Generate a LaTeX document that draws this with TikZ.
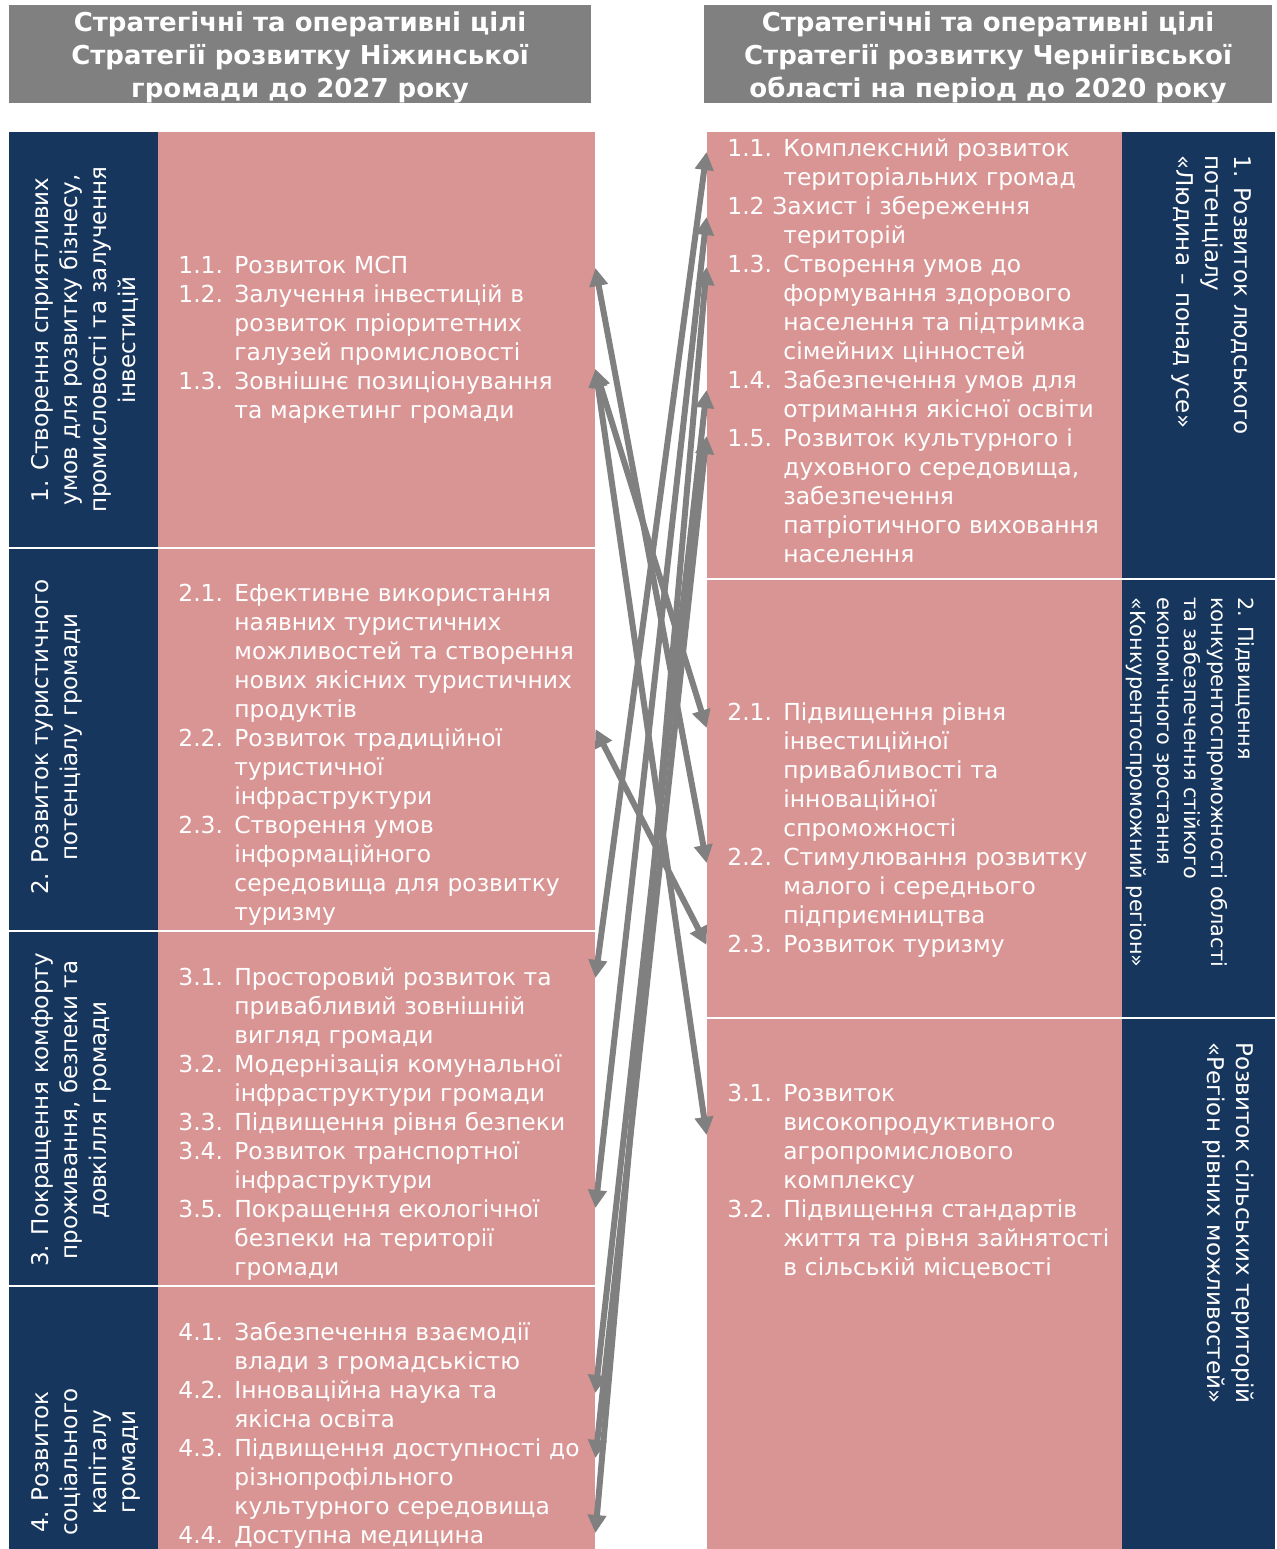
\documentclass[tikz,border=0pt]{standalone}
\usepackage{fontspec}
\setmainfont{DejaVu Sans}
\usetikzlibrary{arrows.meta,fit}

\definecolor{navy}{HTML}{17365D}
\definecolor{rosy}{HTML}{D99594}
\definecolor{headgray}{HTML}{808080}

\newlength\numw
\setlength\numw{28pt}
\newcommand\gn[1]{\makebox[\numw][l]{#1}}
\newcommand\gi{\hspace*{\numw}}

\tikzset{
  bluebox/.style={fill=navy, inner sep=0pt},
  pinkbox/.style={fill=rosy, inner sep=0pt},
  headbox/.style={fill=headgray, inner sep=0pt},
  headtext/.style={text=white, font=\fontsize{13pt}{16.5pt}\selectfont\bfseries, align=center},
  goaltext/.style={text=white, font=\fontsize{11.7pt}{14.5pt}\selectfont, align=left, anchor=north west, inner sep=0pt, text width=240pt},
  sidetext/.style={text=white, font=\fontsize{11.5pt}{14.5pt}\selectfont, inner sep=0pt},
  link/.style={draw=headgray, line width=3pt, {Triangle[width=9pt,length=9pt]}-{Triangle[width=9pt,length=9pt]}},
}

\begin{document}
\begin{tikzpicture}[x=0.5pt, y=-0.5pt]
\useasboundingbox (0,0) rectangle (1277,1549);

% headers
\node[headbox, fit={(9,5) (591,103)}] (hl) {};
\node[headbox, fit={(704,5) (1272,103)}] (hr) {};
\node[headtext] at ([yshift=-1.5pt]hl.center) {Стратегічні та оперативні цілі\\ Стратегії розвитку Ніжинської\\ громади до 2027 року};
\node[headtext] at ([yshift=-1.5pt]hr.center) {Стратегічні та оперативні цілі\\ Стратегії розвитку Чернігівської\\ області на період до 2020 року};

% left column
\node[bluebox, fit={(9,132) (158,547)}] (lb1) {};
\node[pinkbox, fit={(158,132) (595,547)}] (lp1) {};
\node[bluebox, fit={(9,549) (158,930)}] (lb2) {};
\node[pinkbox, fit={(158,549) (595,930)}] (lp2) {};
\node[bluebox, fit={(9,932) (158,1285)}] (lb3) {};
\node[pinkbox, fit={(158,932) (595,1285)}] (lp3) {};
\node[bluebox, fit={(9,1287) (158,1551)}] (lb4) {};
\node[pinkbox, fit={(158,1287) (595,1551)}] (lp4) {};

% right column
\node[pinkbox, fit={(707,132) (1122,578)}] (rp1) {};
\node[bluebox, fit={(1122,132) (1275,578)}] (rb1) {};
\node[pinkbox, fit={(707,580) (1122,1017)}] (rp2) {};
\node[bluebox, fit={(1122,580) (1275,1017)}] (rb2) {};
\node[pinkbox, fit={(707,1019) (1122,1551)}] (rp3) {};
\node[bluebox, fit={(1122,1019) (1275,1551)}] (rb3) {};

% strategic goals, left
\node[sidetext, rotate=90, align=center, anchor=north] (ls1) at (28,340) {\strut 1. Створення сприятливих\\ умов для розвитку бізнесу,\\ промисловості та залучення\\ інвестицій};
\node[sidetext, rotate=90, align=center, anchor=north] (ls2) at (28,737) {\strut 2. Розвиток туристичного\\ потенціалу громади};
\node[sidetext, rotate=90, align=center, anchor=north] (ls3) at (28,1110) {\strut 3. Покращення комфорту\\ проживання, безпеки та\\ довкілля громади};
\node[sidetext, rotate=90, align=center, anchor=north] (ls4) at (28,1462) {\strut 4. Розвиток\\ соціального\\ капіталу\\ громади};

% strategic goals, right
\node[sidetext, rotate=-90, align=left, anchor=north west] (rs1) at (1255,155) {\strut 1. Розвиток людського\\ потенціалу\\ «Людина – понад усе»};
\node[sidetext, rotate=-90, align=left, anchor=north west, font=\fontsize{10.4pt}{13.5pt}\selectfont] (rs2) at (1258,597) {\strut 2. Підвищення\\ конкурентоспроможності області\\ та забезпечення стійкого\\ економічного зростання\\ «Конкурентоспроможний регіон»};
\node[sidetext, rotate=-90, align=left, anchor=north west] (rs3) at (1257,1042) {\strut Розвиток сільських територій\\ «Регіон рівних можливостей»};

% operational goals, left
\node[goaltext] (lt1) at (178,253) {\strut\gn{1.1.}Розвиток МСП\\
\gn{1.2.}Залучення інвестицій в\\ \gi розвиток пріоритетних\\ \gi галузей промисловості\\
\gn{1.3.}Зовнішнє позиціонування\\ \gi та маркетинг громади};
\node[goaltext] (lt2) at (178,581) {\strut\gn{2.1.}Ефективне використання\\ \gi наявних туристичних\\ \gi можливостей та створення\\ \gi нових якісних туристичних\\ \gi продуктів\\
\gn{2.2.}Розвиток традиційної\\ \gi туристичної\\ \gi інфраструктури\\
\gn{2.3.}Створення умов\\ \gi інформаційного\\ \gi середовища для розвитку\\ \gi туризму};
\node[goaltext] (lt3) at (178,965) {\strut\gn{3.1.}Просторовий розвиток та\\ \gi привабливий зовнішній\\ \gi вигляд громади\\
\gn{3.2.}Модернізація комунальної\\ \gi інфраструктури громади\\
\gn{3.3.}Підвищення рівня безпеки\\
\gn{3.4.}Розвиток транспортної\\ \gi інфраструктури\\
\gn{3.5.}Покращення екологічної\\ \gi безпеки на території\\ \gi громади};
\node[goaltext] (lt4) at (178,1320) {\strut\gn{4.1.}Забезпечення взаємодії\\ \gi влади з громадськістю\\
\gn{4.2.}Інноваційна наука та\\ \gi якісна освіта\\
\gn{4.3.}Підвищення доступності до\\ \gi різнопрофільного\\ \gi культурного середовища\\
\gn{4.4.}Доступна медицина};

% operational goals, right
\node[goaltext] (rt1) at (727,136) {\strut\gn{1.1.}Комплексний розвиток\\ \gi територіальних громад\\
1.2 Захист і збереження\\ \gi територій\\
\gn{1.3.}Створення умов до\\ \gi формування здорового\\ \gi населення та підтримка\\ \gi сімейних цінностей\\
\gn{1.4.}Забезпечення умов для\\ \gi отримання якісної освіти\\
\gn{1.5.}Розвиток культурного і\\ \gi духовного середовища,\\ \gi забезпечення\\ \gi патріотичного виховання\\ \gi населення};
\node[goaltext] (rt2) at (727,700) {\strut\gn{2.1.}Підвищення рівня\\ \gi інвестиційної\\ \gi привабливості та\\ \gi інноваційної\\ \gi спроможності\\
\gn{2.2.}Стимулювання розвитку\\ \gi малого і середнього\\ \gi підприємництва\\
\gn{2.3.}Розвиток туризму};
\node[goaltext] (rt3) at (727,1081) {\strut\gn{3.1.}Розвиток\\ \gi високопродуктивного\\ \gi агропромислового\\ \gi комплексу\\
\gn{3.2.}Підвищення стандартів\\ \gi життя та рівня зайнятості\\ \gi в сільській місцевості};

% link ends
\coordinate (la) at (lp1.east |- 0,268);
\coordinate (lb) at (lp1.east |- 0,369);
\coordinate (lc) at (lp2.east |- 0,729);
\coordinate (ld) at (lp3.east |- 0,978);
\coordinate (le) at (lp3.east |- 0,1208);
\coordinate (lf) at (lp4.east |- 0,1393);
\coordinate (lg) at (lp4.east |- 0,1458);
\coordinate (lh) at (lp4.east |- 0,1533);
\coordinate (ra) at (rp1.west |- 0,152);
\coordinate (rb) at (rp1.west |- 0,217);
\coordinate (rc) at (rp1.west |- 0,267);
\coordinate (rd) at (rp1.west |- 0,390);
\coordinate (re) at (rp1.west |- 0,436);
\coordinate (rf) at (rp2.west |- 0,728);
\coordinate (rg) at (rp2.west |- 0,863);
\coordinate (rh) at (rp2.west |- 0,945);
\coordinate (ri) at (rp3.west |- 0,1135);

% links
\draw[link] (la) -- (rg);
\draw[link] (lb) -- (rf);
\draw[link] (lb) -- (ri);
\draw[link] (lc) -- (rh);
\draw[link] (ld) -- (ra);
\draw[link] (le) -- (rb);
\draw[link] (lf) -- (rd);
\draw[link] (lg) -- (re);
\draw[link] (lh) -- (rc);
\end{tikzpicture}
\end{document}
